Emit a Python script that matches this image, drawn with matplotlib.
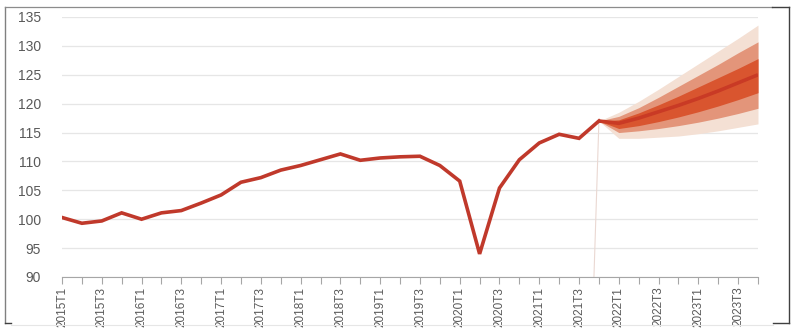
import matplotlib
matplotlib.use("Agg")
import matplotlib.pyplot as plt
from matplotlib.lines import Line2D
import numpy as np

plt.rcParams['font.family'] = ['Liberation Sans', 'DejaVu Sans']

# ---- data ----
quarters = [f"{y}T{q}" for y in range(2015, 2024) for q in range(1, 5)]
history = [100.3, 99.3, 99.7, 101.1, 100.0, 101.1, 101.5, 102.8, 104.2, 106.4,
           107.2, 108.5, 109.3, 110.3, 111.3, 110.2, 110.6, 110.8, 110.9, 109.3,
           106.6, 94.0, 105.4, 110.3, 113.2, 114.7, 114.0, 117.0]
# forecast from 2021T4 to 2023T4
central = [117.0, 116.6, 117.5, 118.6, 119.7, 120.9, 122.2, 123.6, 125.0]
outer_up = [117.0, 118.5, 120.4, 122.5, 124.7, 126.9, 129.1, 131.3, 133.6]
mid_up = [117.0, 117.8, 119.3, 121.1, 123.0, 124.9, 126.8, 128.8, 130.7]
inner_up = [117.0, 117.2, 118.4, 119.8, 121.3, 122.9, 124.5, 126.1, 127.8]
inner_lo = [117.0, 115.7, 116.2, 116.9, 117.7, 118.6, 119.6, 120.7, 121.9]
mid_lo = [117.0, 115.0, 115.3, 115.7, 116.2, 116.8, 117.5, 118.3, 119.2]
outer_lo = [117.0, 114.0, 114.0, 114.2, 114.4, 114.8, 115.3, 115.9, 116.5]
yticks = [90, 95, 100, 105, 110, 115, 120, 125, 130, 135]

fig = plt.figure(figsize=(7.95, 3.28), dpi=100)
ax = fig.add_axes([62/795, 1-277/328, (758-62)/795, (277-17)/328])

x_hist = np.arange(len(history))
x_fc = np.arange(len(history)-1, len(history)-1+len(central))

ax.fill_between(x_fc, outer_lo, outer_up, color='#f4e0d4', lw=0, zorder=2)
ax.fill_between(x_fc, mid_lo, mid_up, color='#e3957a', lw=0, zorder=3)
ax.fill_between(x_fc, inner_lo, inner_up, color='#d9552f', lw=0, zorder=4)
ax.plot(x_fc, central, color='#c93a25', lw=2.6, zorder=5, solid_capstyle='butt')
ax.plot(x_hist, history, color='#c0392b', lw=2.6, zorder=6, solid_joinstyle='miter')

# thin faint connector line down to axis
ax.plot([x_hist[-1], x_hist[-1]-0.25], [history[-1], yticks[0]], color='#ead8d2', lw=0.8, zorder=1)

ax.set_xlim(0, len(quarters)-1)
ax.set_ylim(yticks[0], yticks[-1])
ax.set_yticks(yticks)
ax.set_yticklabels([str(v) for v in yticks], fontsize=10, color='#595959')
ax.tick_params(axis='y', length=0, pad=15)
ax.set_xticks(np.arange(len(quarters)))
ax.set_xticklabels([q if i % 2 == 0 else '' for i, q in enumerate(quarters)],
                   rotation=90, fontsize=8.5, color='#595959')
ax.tick_params(axis='x', length=5, color='#a6a6a6', width=0.8, pad=2)

ax.grid(axis='y', color='#e6e6e6', lw=0.9, zorder=0)
ax.set_axisbelow(True)
for s in ['left', 'right', 'top']:
    ax.spines[s].set_visible(False)
ax.spines['bottom'].set_color('#a6a6a6')
ax.spines['bottom'].set_linewidth(0.8)

# outer frame
def fl(x0, y0, x1, y1, c, lw):
    fig.add_artist(Line2D([x0/795, x1/795], [1-y0/328, 1-y1/328], color=c, lw=lw))

fl(5, 7, 5, 323, '#808080', 1.0)
fl(5, 7, 772, 7, '#8c8c8c', 0.9)
fl(772, 7, 789, 7, '#404040', 1.0)
fl(789, 7, 789, 323, '#404040', 1.0)
fl(773, 323, 789, 323, '#404040', 1.0)
fl(5, 323, 11, 323, '#404040', 1.0)
fl(11, 324.5, 773, 324.5, '#e6e6e6', 0.8)

fig.savefig('out.png', dpi=100)
